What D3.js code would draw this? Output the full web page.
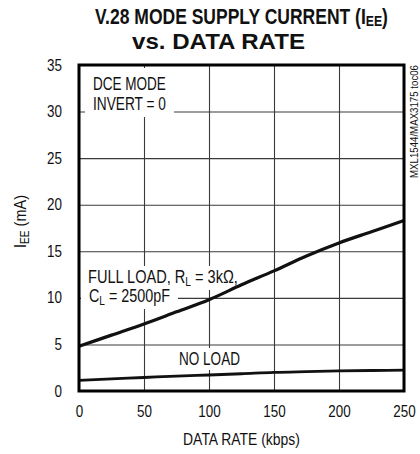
<!DOCTYPE html>
<html>
<head>
<meta charset="utf-8">
<script src="https://cdn.jsdelivr.net/npm/d3@7"></script>
<style>
  html, body { margin: 0; padding: 0; background: #fff; }
  svg { display: block; }
  text { font-family: "Liberation Sans", Arial, sans-serif; fill: #111; }
</style>
</head>
<body>
<div id="chart"></div>
<script>
// ---- data ----
const dataRate = [0, 25, 50, 75, 100, 125, 150, 175, 200, 225, 250];          // kbps
const fullLoad = [4.8, 6.0, 7.2, 8.5, 9.8, 11.4, 12.9, 14.5, 15.9, 17.1, 18.3]; // mA
const noLoad   = [1.15, 1.3, 1.45, 1.6, 1.72, 1.85, 2.0, 2.08, 2.15, 2.2, 2.25]; // mA
const xTicks = [0, 50, 100, 150, 200, 250];
const yTicks = [0, 5, 10, 15, 20, 25, 30, 35];

const W = 420, H = 454;
const m = { left: 79, right: 16, top: 65, bottom: 63 };
const NARROW = 0.84;

const svg = d3.select("#chart").append("svg").attr("width", W).attr("height", H);

const x = d3.scaleLinear().domain([0, 250]).range([m.left, W - m.right]);
const y = d3.scaleLinear().domain([0, 35]).range([H - m.bottom, m.top]);

// text placed at (px,py) via transform, horizontally compressed to a target width
function addText(parent, px, py, opts) {
  const t = parent.append("text").attr("font-size", opts.fs || 16)
    .attr("text-anchor", opts.anchor || "start");
  if (opts.bold) t.attr("font-weight", "bold");
  if (opts.fill) t.attr("fill", opts.fill);
  opts.parts.forEach(p => {
    const ts = t.append("tspan").text(p.t);
    if (p.sub) ts.attr("font-size", "0.7em").attr("dy", p.dy || 3);
    else if (p.after) ts.attr("dy", -(p.dy || 3));
  });
  const b = t.node().getBBox();
  const s = opts.width ? opts.width / b.width : NARROW;
  const rot = opts.rotate ? ` rotate(${opts.rotate})` : "";
  t.attr("transform", `translate(${px},${py})${rot} scale(${s},1)`);
  return { t, b, s };
}

// grid
const grid = svg.append("g");
grid.append("g").attr("transform", `translate(0,${y(0)})`)
  .call(d3.axisBottom(x).tickValues(xTicks).tickSize(-(y(0) - y(35))).tickFormat(""))
  .call(g => g.select(".domain").remove())
  .call(g => g.selectAll("line").attr("stroke", "#3a3a3a").attr("stroke-width", 1.1));
grid.append("g").attr("transform", `translate(${x(0)},0)`)
  .call(d3.axisLeft(y).tickValues(yTicks).tickSize(-(x(250) - x(0))).tickFormat(""))
  .call(g => g.select(".domain").remove())
  .call(g => g.selectAll("line").attr("stroke", "#3a3a3a").attr("stroke-width", 1.1));

// tick labels
const xAx = svg.append("g").attr("transform", `translate(0,${y(0)})`)
  .call(d3.axisBottom(x).tickValues(xTicks).tickSize(0).tickPadding(15));
xAx.select(".domain").remove();
xAx.selectAll("text").attr("font-size", 16).attr("font-family", null).attr("fill", "#111")
  .attr("transform", `scale(${NARROW},1)`);

const yPad = 17;
const yAx = svg.append("g").attr("transform", `translate(${x(0)},0)`)
  .call(d3.axisLeft(y).tickValues(yTicks).tickSize(0).tickPadding(yPad));
yAx.select(".domain").remove();
yAx.selectAll("text").attr("font-size", 16).attr("font-family", null).attr("fill", "#111")
  .attr("x", -yPad / NARROW).attr("transform", `scale(${NARROW},1)`);

// annotations with white backgrounds
function label(lines) {
  const g = svg.append("g");
  lines.forEach(l => {
    const bg = g.append("rect").attr("fill", "#fff");
    const r = addText(g, l.x, l.y, { fs: 18, parts: l.parts, width: l.width });
    const px = l.px != null ? l.px : 8, py = l.py != null ? l.py : 3;
    bg.attr("x", l.x + r.b.x * r.s - px).attr("y", l.y + r.b.y - py)
      .attr("width", r.b.width * r.s + 2 * px).attr("height", r.b.height + 2 * py);
  });
}
label([
  { x: 93, y: 90, width: 73, parts: [{ t: "DCE MODE" }], py: 6 },
  { x: 93, y: 110, width: 73, parts: [{ t: "INVERT = 0" }], py: 3 }
]);
label([
  { x: 88, y: 283, width: 150, parts: [{ t: "FULL LOAD, R" }, { t: "L", sub: true }, { t: " = 3k\u03A9,", after: true }], px: 6, py: 1 },
  { x: 89, y: 302, width: 81, parts: [{ t: "C" }, { t: "L", sub: true }, { t: " = 2500pF", after: true }], px: 8, py: 1 }
]);
label([
  { x: 179, y: 365, width: 61, parts: [{ t: "NO LOAD" }], px: 6, py: 1 }
]);

// curves
const line = d3.line().x((d, i) => x(dataRate[i])).y(d => y(d)).curve(d3.curveMonotoneX);
svg.append("path").attr("d", line(fullLoad)).attr("fill", "none").attr("stroke", "#111").attr("stroke-width", 3.2);
svg.append("path").attr("d", line(noLoad)).attr("fill", "none").attr("stroke", "#111").attr("stroke-width", 2.8);

// frame
svg.append("rect").attr("x", x(0)).attr("y", y(35)).attr("width", x(250) - x(0)).attr("height", y(0) - y(35))
  .attr("fill", "none").attr("stroke", "#000").attr("stroke-width", 3);

// axis titles
addText(svg, 241.5, 445, { fs: 17, anchor: "middle", width: 117, parts: [{ t: "DATA RATE (kbps)" }] });
addText(svg, 25.5, 221.5, { fs: 17, anchor: "middle", width: 53, rotate: -90,
  parts: [{ t: "I" }, { t: "EE", sub: true }, { t: " (mA)", after: true }] });

// watermark
addText(svg, 418, 65, { fs: 11, anchor: "end", width: 113, rotate: -90, fill: "#222",
  parts: [{ t: "MXL1544/MAX3175 toc06" }] });

// title
addText(svg, 241.5, 23.5, { fs: 22, bold: true, anchor: "middle", width: 293,
  parts: [{ t: "V.28 MODE SUPPLY CURRENT (I" }, { t: "EE", sub: true, dy: 2 }, { t: ")", after: true, dy: 2 }] });
addText(svg, 218.5, 49, { fs: 22, bold: true, anchor: "middle", width: 173, parts: [{ t: "vs. DATA RATE" }] });
</script>
</body>
</html>
